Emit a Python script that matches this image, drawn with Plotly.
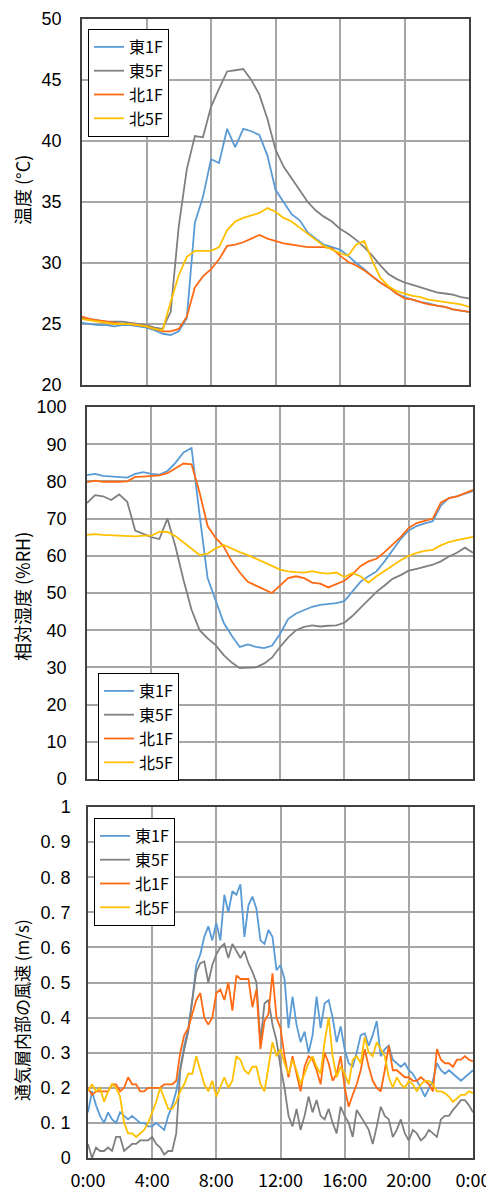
import plotly.graph_objects as go

# ---------------- data ----------------
series_names = ["東1F", "東5F", "北1F", "北5F"]
series_colors = ["#5B9BD5", "#808080", "#FF6A13", "#FFC000"]

# time (hours) every 30 min for temperature / humidity
hours_30 = [i * 0.5 for i in range(49)]
# time (hours) every 15 min for air speed
hours_15 = [i * 0.25 for i in range(97)]

temp_e1 = [25.1, 25.0, 24.9, 24.9, 24.8, 24.9, 24.9, 24.8, 24.7, 24.5, 24.2, 24.1, 24.4, 25.5, 33.3,
           35.4, 38.5, 38.2, 41.0, 39.5, 41.0, 40.8, 40.5, 38.8, 36.0, 35.0, 34.0, 33.5, 32.5, 32.0,
           31.5, 31.3, 31.1, 30.6, 30.0, 29.5, 28.9, 28.4, 28.0, 27.5, 27.2, 27.0, 26.8, 26.7, 26.5,
           26.4, 26.2, 26.1, 26.0]
temp_e5 = [25.5, 25.4, 25.3, 25.2, 25.2, 25.2, 25.1, 25.0, 24.9, 24.7, 24.6, 26.0, 33.0, 37.7, 40.4,
           40.3, 42.8, 44.3, 45.7, 45.8, 45.9, 45.0, 43.8, 41.8, 39.3, 37.9, 36.9, 36.0, 35.0, 34.3,
           33.8, 33.4, 32.8, 32.4, 31.9, 31.3, 30.6, 29.8, 29.1, 28.7, 28.4, 28.2, 28.0, 27.8, 27.6,
           27.5, 27.4, 27.2, 27.1]
temp_n1 = [25.6, 25.4, 25.3, 25.2, 25.1, 25.0, 25.0, 24.9, 24.8, 24.6, 24.4, 24.4, 24.6, 25.6, 28.0,
           28.9, 29.5, 30.3, 31.4, 31.5, 31.7, 32.0, 32.3, 32.0, 31.8, 31.6, 31.5, 31.4, 31.3, 31.3,
           31.3, 31.2, 30.6, 30.1, 29.8, 29.4, 28.9, 28.4, 28.0, 27.5, 27.1, 27.0, 26.8, 26.6, 26.5,
           26.4, 26.2, 26.1, 26.0]
temp_n5 = [25.4, 25.3, 25.2, 25.1, 25.0, 25.0, 25.0, 24.9, 24.8, 24.6, 24.5, 26.8, 29.0, 30.5, 31.0,
           31.0, 31.0, 31.3, 32.7, 33.4, 33.7, 33.9, 34.1, 34.5, 34.2, 33.7, 33.4, 32.9, 32.4, 31.9,
           31.4, 31.1, 30.8, 30.6, 31.5, 31.8, 30.2, 28.8, 28.1, 27.7, 27.5, 27.3, 27.2, 27.0, 26.9,
           26.8, 26.7, 26.6, 26.4]

rh_e1 = [81.7, 82.0, 81.5, 81.3, 81.2, 81.0, 82.0, 82.5, 82.0, 81.8, 82.8, 85.0, 87.8, 89.0, 71.0,
         54.0, 48.0, 42.0, 38.5, 35.5, 36.2, 35.5, 35.2, 35.8, 39.0, 43.0, 44.5, 45.3, 46.3, 46.8,
         47.0, 47.3, 47.8, 50.5, 53.0, 54.5, 55.8, 58.5, 61.5, 64.5, 66.8, 68.0, 68.7, 69.3, 73.5,
         75.5, 76.0, 76.6, 77.4]
rh_e5 = [74.2, 76.3, 76.0, 75.0, 76.5, 74.5, 66.8, 65.8, 65.0, 64.5, 70.0, 62.5, 53.5, 45.5, 40.0,
         37.8, 36.0, 33.3, 31.3, 29.8, 30.0, 30.0, 31.0, 32.6, 35.5, 38.0, 40.0, 40.9, 41.3, 41.0,
         41.2, 41.3, 42.0, 43.8, 46.0, 48.2, 50.3, 52.0, 53.8, 54.8, 56.0, 56.5, 57.0, 57.6, 58.5,
         59.8, 60.8, 62.2, 60.8]
rh_n1 = [79.8, 80.2, 79.9, 79.8, 79.9, 80.0, 81.2, 81.3, 81.4, 81.6, 82.2, 83.6, 84.8, 84.6, 77.0,
         68.0, 64.8, 62.5, 58.5, 55.5, 53.0, 52.0, 51.0, 50.0, 52.0, 54.0, 54.5, 54.0, 52.8, 52.5,
         51.5, 52.5, 53.3, 55.0, 57.2, 58.5, 59.2, 61.0, 63.0, 65.0, 67.5, 68.8, 69.4, 70.0, 74.3,
         75.5, 76.0, 76.8, 77.7]
rh_n5 = [65.6, 65.8, 65.6, 65.5, 65.4, 65.2, 65.2, 65.4, 65.4, 66.5, 66.4, 65.3, 63.6, 61.8, 60.2,
         60.6, 62.0, 62.9, 61.9, 61.0, 60.2, 59.3, 58.3, 57.3, 56.3, 55.8, 55.6, 55.5, 55.9, 55.4,
         55.2, 55.5, 54.3, 55.4, 54.5, 52.8, 54.5, 56.0, 57.3, 58.8, 60.0, 60.8, 61.3, 61.6, 62.8,
         63.7, 64.2, 64.6, 65.1]

wind_e1 = [0.13, 0.19, 0.15, 0.12, 0.10, 0.13, 0.11, 0.10, 0.13, 0.12, 0.11, 0.12, 0.11, 0.10, 0.10, 0.09,
           0.09, 0.10, 0.09, 0.08, 0.12, 0.15, 0.19, 0.26, 0.32, 0.37, 0.45, 0.55, 0.58, 0.63, 0.66, 0.62,
           0.67, 0.62, 0.75, 0.70, 0.76, 0.75, 0.78, 0.63, 0.72, 0.745, 0.71, 0.62, 0.61, 0.65, 0.63, 0.535,
           0.55, 0.51, 0.37, 0.46, 0.38, 0.33, 0.36, 0.30, 0.35, 0.46, 0.37, 0.44, 0.45, 0.40, 0.33, 0.375,
           0.31, 0.27, 0.26, 0.30, 0.35, 0.355, 0.32, 0.35, 0.39, 0.29, 0.31, 0.32, 0.28, 0.27, 0.26, 0.27,
           0.25, 0.24, 0.22, 0.20, 0.175, 0.20, 0.22, 0.27, 0.25, 0.24, 0.25, 0.24, 0.23, 0.22, 0.23, 0.24,
           0.25]
wind_e5 = [0.04, 0.00, 0.03, 0.02, 0.02, 0.03, 0.02, 0.06, 0.06, 0.02, 0.03, 0.04, 0.04, 0.05, 0.05, 0.05,
           0.06, 0.04, 0.03, 0.01, 0.02, 0.02, 0.07, 0.25, 0.31, 0.36, 0.45, 0.53, 0.555, 0.56, 0.50, 0.55,
           0.58, 0.60, 0.61, 0.57, 0.61, 0.59, 0.57, 0.59, 0.555, 0.53, 0.50, 0.33, 0.44, 0.45, 0.38, 0.335,
           0.26, 0.20, 0.12, 0.09, 0.14, 0.08, 0.12, 0.175, 0.13, 0.165, 0.12, 0.11, 0.14, 0.10, 0.07, 0.146,
           0.12, 0.10, 0.06, 0.137, 0.12, 0.10, 0.08, 0.04, 0.09, 0.146, 0.12, 0.11, 0.06, 0.08, 0.11, 0.07,
           0.05, 0.08, 0.07, 0.05, 0.06, 0.08, 0.07, 0.06, 0.11, 0.12, 0.12, 0.137, 0.15, 0.165, 0.165, 0.15,
           0.13]
wind_n1 = [0.20, 0.18, 0.19, 0.19, 0.19, 0.19, 0.21, 0.21, 0.19, 0.20, 0.23, 0.21, 0.21, 0.19, 0.19, 0.20,
           0.20, 0.20, 0.20, 0.21, 0.21, 0.21, 0.22, 0.30, 0.35, 0.37, 0.41, 0.45, 0.47, 0.40, 0.38, 0.40,
           0.47, 0.48, 0.45, 0.50, 0.42, 0.52, 0.51, 0.51, 0.51, 0.43, 0.48, 0.31, 0.39, 0.41, 0.526, 0.40,
           0.37, 0.29, 0.23, 0.29, 0.24, 0.19, 0.26, 0.29, 0.28, 0.25, 0.21, 0.30, 0.27, 0.22, 0.24, 0.29,
           0.20, 0.146, 0.18, 0.21, 0.25, 0.31, 0.26, 0.22, 0.20, 0.19, 0.25, 0.32, 0.25, 0.25, 0.24, 0.23,
           0.23, 0.22, 0.22, 0.23, 0.22, 0.21, 0.19, 0.31, 0.28, 0.27, 0.27, 0.26, 0.28, 0.28, 0.29, 0.28,
           0.275]
wind_n5 = [0.19, 0.21, 0.19, 0.20, 0.16, 0.19, 0.21, 0.20, 0.175, 0.10, 0.07, 0.07, 0.06, 0.07, 0.08, 0.10,
           0.13, 0.16, 0.20, 0.17, 0.14, 0.14, 0.16, 0.19, 0.21, 0.24, 0.24, 0.29, 0.25, 0.21, 0.19, 0.22,
           0.175, 0.20, 0.23, 0.20, 0.22, 0.29, 0.28, 0.25, 0.24, 0.26, 0.26, 0.21, 0.19, 0.26, 0.33, 0.29,
           0.31, 0.27, 0.24, 0.28, 0.25, 0.21, 0.24, 0.27, 0.29, 0.26, 0.24, 0.33, 0.40, 0.29, 0.23, 0.26,
           0.24, 0.21, 0.28, 0.29, 0.27, 0.345, 0.30, 0.29, 0.33, 0.31, 0.29, 0.23, 0.20, 0.23, 0.21, 0.20,
           0.22, 0.21, 0.19, 0.21, 0.22, 0.22, 0.21, 0.19, 0.19, 0.185, 0.175, 0.16, 0.17, 0.18, 0.18, 0.19,
           0.185]

x_tick_vals = [0, 4, 8, 12, 16, 20, 24]
x_tick_text = ["0:00", "4:00", "8:00", "12:00", "16:00", "20:00", "0:00"]
temp_ticks = [20, 25, 30, 35, 40, 45, 50]
rh_ticks = [0, 10, 20, 30, 40, 50, 60, 70, 80, 90, 100]
wind_tick_vals = [0, 0.1, 0.2, 0.3, 0.4, 0.5, 0.6, 0.7, 0.8, 0.9, 1.0]
wind_tick_text = ["0", "0. 1", "0. 2", "0. 3", "0. 4", "0. 5", "0. 6", "0. 7", "0. 8", "0. 9", "1"]
y_titles = ["温度 (°C)", "相対湿度 (%RH)", "通気層内部の風速 (m/s)"]

# ---------------- figure ----------------
# The page body has an 8 px default margin, so the figure is drawn 8 px smaller
# and every screen-pixel position below is converted with that offset.
WIN_W, WIN_H = 494, 1194
OFF = 8
W, H = WIN_W - OFF, WIN_H - OFF
FONT = "Noto Sans CJK JP"
NUM_FONT = "Liberation Sans"


def px(x):
    return (x - OFF) / W


def py(y):
    return 1 - (y - OFF) / H


fig = go.Figure()

panels = [
    (hours_30, [temp_e1, temp_e5, temp_n1, temp_n5], "", "legend"),
    (hours_30, [rh_e1, rh_e5, rh_n1, rh_n5], "2", "legend2"),
    (hours_15, [wind_e1, wind_e5, wind_n1, wind_n5], "3", "legend3"),
]
for xs, ys_list, ax, leg in panels:
    for name, col, ys in zip(series_names, series_colors, ys_list):
        fig.add_trace(go.Scatter(
            x=xs, y=ys, mode="lines", name=name,
            line=dict(color=col, width=1.8),
            xaxis="x" + ax, yaxis="y" + ax, legend=leg,
        ))

grid = "#A6A6A6"
axis_line = "#404040"
common_x = dict(range=[0, 24], tickvals=x_tick_vals, showgrid=True, gridcolor=grid, gridwidth=1.5,
                showline=True, mirror=True, linecolor=axis_line, linewidth=1.5, zeroline=False,
                ticks="", automargin=False, fixedrange=True, ticklabeloverflow="allow")
common_y = dict(showgrid=True, gridcolor=grid, gridwidth=1.5, showline=True, mirror=True,
                linecolor=axis_line, linewidth=1.5, zeroline=False, ticks="", automargin=False,
                tickfont=dict(family=NUM_FONT, size=18, color="#000"), ticklabelstandoff=15,
                ticklabeloverflow="allow")

fig.update_layout(
    width=W, height=H,
    margin=dict(l=0, r=0, t=0, b=0),
    paper_bgcolor="white", plot_bgcolor="white",
    font=dict(family=FONT, color="#000"),
    xaxis=dict(common_x, domain=[px(82), px(469)], anchor="y", showticklabels=False),
    yaxis=dict(common_y, domain=[py(385), py(19)], anchor="x", range=[20, 50], tickvals=temp_ticks),
    xaxis2=dict(common_x, domain=[px(87), px(473)], anchor="y2", showticklabels=False),
    yaxis2=dict(common_y, domain=[py(779), py(407)], anchor="x2", range=[0, 100], tickvals=rh_ticks),
    xaxis3=dict(common_x, domain=[px(88), px(473)], anchor="y3", showticklabels=True,
                ticktext=x_tick_text, tickfont=dict(family=FONT, size=18, color="#000"),
                ticklabelstandoff=6),
    yaxis3=dict(common_y, domain=[py(1158), py(807)], anchor="x3", range=[0, 1],
                tickvals=wind_tick_vals, ticktext=wind_tick_text, ticklabelstandoff=12),
    showlegend=True,
)

# y-axis titles as rotated annotations placed like the reference
for txt, yc, fs in zip(y_titles, [190, 597, 1010], [18, 18, 17]):
    fig.add_annotation(text=txt, textangle=-90, xref="paper", yref="paper",
                       x=px(22), y=py(yc), xanchor="center", yanchor="middle",
                       showarrow=False, font=dict(family=FONT, size=fs, color="#000"))

leg_common = dict(bgcolor="white", bordercolor="#000", borderwidth=1,
                  font=dict(family=FONT, size=16, color="#000"),
                  xanchor="left", yanchor="top", tracegroupgap=0, itemwidth=30)
fig.update_layout(
    legend=dict(leg_common, x=px(88), y=py(29)),
    legend2=dict(leg_common, x=px(98), y=py(673)),
    legend3=dict(leg_common, x=px(94), y=py(818)),
)

fig.write_html("out.html")
